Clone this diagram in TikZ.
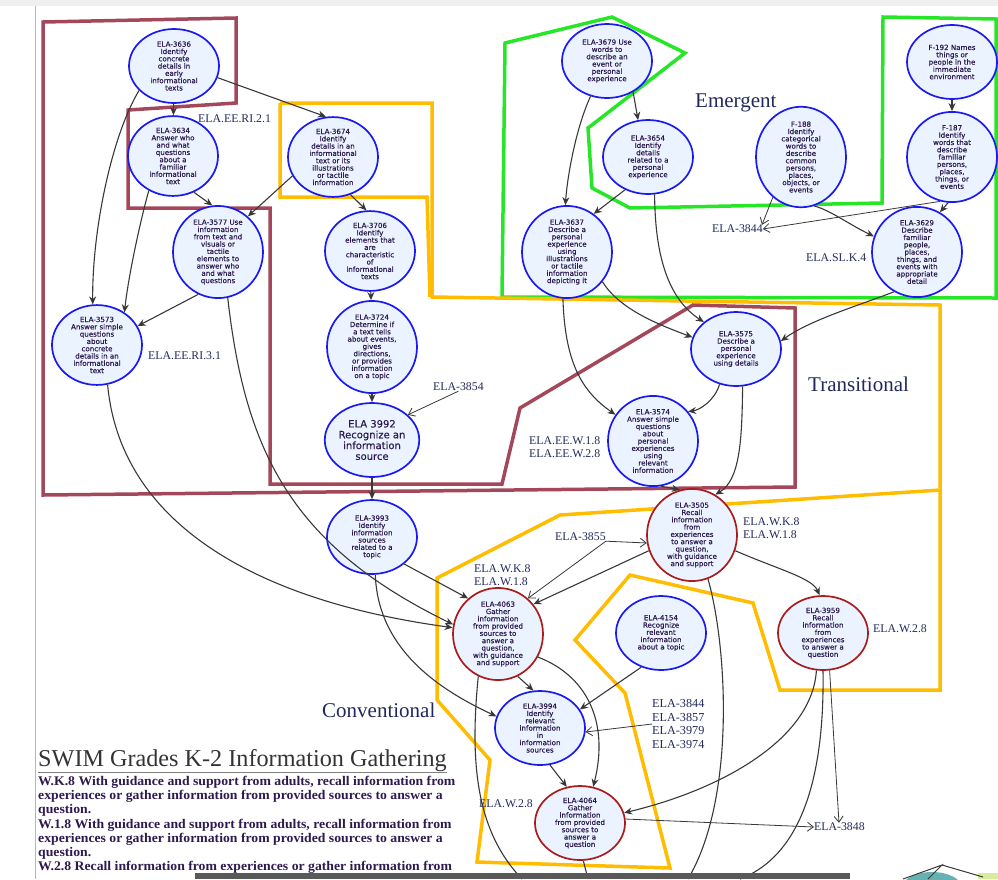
\documentclass[tikz,border=0pt]{standalone}
\usepackage{fontspec}
\setmainfont{Liberation Serif}
\newfontfamily\nodefont{DejaVu Sans}[FakeBold=0.4]
\newfontfamily\bodyfont{Liberation Serif}[FakeStretch=1.04]
\usetikzlibrary{shapes.geometric,arrows.meta}
\definecolor{ringblue}{HTML}{1A1AF0}
\definecolor{ringred}{HTML}{A81C1C}
\definecolor{nodefill}{HTML}{EAF3FF}
\definecolor{nodetext}{HTML}{2E1A4E}
\definecolor{eebox}{HTML}{A3485A}
\definecolor{levelbox}{HTML}{FFBC00}
\definecolor{emergbox}{HTML}{27E627}
\definecolor{labtext}{HTML}{22295A}
\definecolor{edgegray}{HTML}{383838}
\definecolor{pageline}{HTML}{A8B8D0}
\begin{document}
\begin{tikzpicture}[x=1pt,y=-1pt,
  ela/.style={ellipse,draw=ringblue,line width=1.7pt,fill=nodefill,inner sep=0pt,
    minimum width=90pt,minimum height=74pt,align=center,text=nodetext,
    font=\nodefont\fontsize{7.1}{7.3}\selectfont},
  gather/.style={ela,draw=ringred},
  dep/.style={-{Stealth[length=8pt,width=7pt]},draw=edgegray,line width=1.1pt},
  offpage/.style={draw=edgegray,line width=1.1pt},
  ref/.style={-{Straight Barb[length=6pt,width=9pt]},draw=edgegray,line width=0.8pt},
  std/.style={anchor=west,text=labtext,font=\fontsize{11.8}{12.6}\selectfont,inner sep=0pt,align=left},
  level/.style={anchor=west,text=labtext,font=\fontsize{21}{22}\selectfont,inner sep=0pt},
  region/.style={line width=3.5pt,line join=miter}]
\useasboundingbox (0,0) rectangle (998,879);
\fill[gray!12] (0,0) rectangle (998,6);
\draw[pageline,line width=1pt] (35,6) -- (35,879);

% regions
\draw[region,emergbox] (502,297) -- (505,43) -- (612,17) -- (685,53) -- (588,128) -- (592,188)
  -- (630,208) -- (882,203) -- (883,17) -- (996,19) -- (996,298) -- cycle;
\draw[region,eebox] (43,495) -- (43,22) -- (236,18) -- (236,103) -- (128,110) -- (128,208)
  -- (270,208) -- (270,484) -- (502,484) -- (520,408) -- (693,305) -- (795,308) -- (795,487) -- cycle;
\draw[region,levelbox] (280,103) -- (432,103) -- (432,297) -- (940,305) -- (940,488);
\draw[region,levelbox] (280,103) -- (280,197) -- (427,197) -- (430,297);
\draw[region,levelbox] (437,578) -- (560,515) -- (940,490) -- (940,690) -- (780,690) -- (753,603)
  -- (630,575) -- (575,640) -- (625,693) -- (670,868) -- (477,862) -- (490,760) -- (437,700) -- cycle;

% standards
\node[ela] (e3636) at (174,66) {ELA-3636\\Identify\\concrete\\details in\\early\\informational\\texts};
\node[ela] (e3634) at (173,156) {ELA-3634\\Answer who\\and what\\questions\\about a\\familiar\\informational\\text};
\node[ela] (e3577) at (218,252) {ELA-3577 Use\\information\\from text and\\visuals or\\tactile\\elements to\\answer who\\and what\\questions};
\node[ela] (e3573) at (97,345) {ELA-3573\\Answer simple\\questions\\about\\concrete\\details in an\\informational\\text};
\node[ela] (e3674) at (333,157) {ELA-3674\\Identify\\details in an\\informational\\text or its\\illustrations\\or tactile\\information};
\node[ela] (e3706) at (370,251) {ELA-3706\\Identify\\elements that\\are\\characteristic\\of\\informational\\texts};
\node[ela] (e3724) at (372,347) {ELA-3724\\Determine if\\a text tells\\about events,\\gives\\directions,\\or provides\\information\\on a topic};
\node[ela,font=\nodefont\fontsize{10}{10.8}\selectfont] (e3992) at (372,440) {ELA 3992\\Recognize an\\information\\source};
\node[ela] (e3679) at (607,61) {ELA-3679 Use\\words to\\describe an\\event or\\personal\\experience};
\node[ela] (e3654) at (648,157) {ELA-3654\\Identify\\details\\related to a\\personal\\experience};
\node[ela] (e3637) at (567,252) {ELA-3637\\Describe a\\personal\\experience\\using\\illustrations\\or tactile\\information\\depicting it};
\node[ela] (f192) at (952,62) {F-192 Names\\things or\\people in the\\immediate\\environment};
\node[ela] (f188) at (801,157) {F-188\\Identify\\categorical\\words to\\describe\\common\\persons,\\places,\\objects, or\\events};
\node[ela] (f187) at (952,157) {F-187\\Identify\\words that\\describe\\familiar\\persons,\\places,\\things, or\\events};
\node[ela] (e3629) at (917,252) {ELA-3629\\Describe\\familiar\\people,\\places,\\things, and\\events with\\appropriate\\detail};
\node[ela] (e3575) at (736,349) {ELA-3575\\Describe a\\personal\\experience\\using details};
\node[ela] (e3574) at (653,441) {ELA-3574\\Answer simple\\questions\\about\\personal\\experiences\\using\\relevant\\information};
\node[ela] (e3993) at (372,537) {ELA-3993\\Identify\\information\\sources\\related to a\\topic};
\node[gather] (e4063) at (498,634) {ELA-4063\\Gather\\information\\from provided\\sources to\\answer a\\question,\\with guidance\\and support};
\node[gather] (e3505) at (692,535) {ELA-3505\\Recall\\information\\from\\experiences\\to answer a\\question,\\with guidance\\and support};
\node[ela] (e4154) at (661,633) {ELA-4154\\Recognize\\relevant\\information\\about a topic};
\node[gather] (e3959) at (823,633) {ELA-3959\\Recall\\information\\from\\experiences\\to answer a\\question};
\node[ela] (e3994) at (540,728) {ELA-3994\\Identify\\relevant\\information\\in\\information\\sources};
\node[gather] (e4064) at (580,823) {ELA-4064\\Gather\\information\\from provided\\sources to\\answer a\\question};

% labels
\node[std] (ri21) at (198,119) {ELA.EE.RI.2.1};
\node[std] (ri31) at (148,356) {ELA.EE.RI.3.1};
\node[level] (emergent) at (695,103) {Emergent};
\node[std] (r3844a) at (712,229) {ELA-3844};
\node[std] (slk4) at (806,258) {ELA.SL.K.4};
\node[level] (transitional) at (808,384) {Transitional};
\node[std] (r3854) at (433,387) {ELA-3854};
\node[std] (eew) at (529,447) {ELA.EE.W.1.8\\ELA.EE.W.2.8};
\node[std] (r3855) at (555,537) {ELA-3855};
\node[std] (wk8a) at (474,575) {ELA.W.K.8\\ELA.W.1.8};
\node[std] (wk8b) at (743,528) {ELA.W.K.8\\ELA.W.1.8};
\node[std] (w28a) at (873,629) {ELA.W.2.8};
\node[level] (conventional) at (322,710) {Conventional};
\node[std,font=\fontsize{12.2}{13.8}\selectfont] (rlist) at (652,724) {ELA-3844\\ELA-3857\\ELA-3979\\ELA-3974};
\node[std] (w28b) at (479,804) {ELA.W.2.8};
\node[std] (r3848) at (814,827) {ELA-3848};

% off-page ends
\coordinate (d4063) at (522,879);
\coordinate (d4064) at (588,879);
\coordinate (d3505) at (688,879);
\coordinate (d3959) at (740,879);

% connections
\draw[dep] (e3636) -- (e3634);
\draw[dep] (e3636.-15) -- (e3674.100);
\draw[dep] (e3636.215) .. controls (112,135) and (92,230) .. (e3573.96);
\draw[dep] (e3634.235) .. controls (138,230) and (128,280) .. (e3573.50);
\draw[dep] (e3634.-60) -- (e3577.97);
\draw[dep] (e3674.205) -- (e3577.50);
\draw[dep] (e3674.-65) -- (e3706.95);
\draw[dep] (e3706) -- (e3724);
\draw[dep] (e3724) -- (e3992);
\draw[dep] (e3577.245) -- (e3573.25);
\draw[dep] (e3577.-78) .. controls (245,450) and (290,545) .. (e4063.168);
\draw[dep] (e3573.-75) .. controls (120,520) and (250,600) .. (e4063.172);
\draw[dep] (e3992) -- (e3993);
\draw[dep] (e3993.-40) -- (e4063.130);
\draw[dep] (e3993.-85) .. controls (378,650) and (440,690) .. (e3994.165);
\draw[dep] (e4063.-65) -- (e3994.100);
\draw[dep] (e4063.-30) .. controls (585,675) and (610,720) .. (e4064.70);
\draw[offpage] (e4063.-115) .. controls (470,760) and (475,830) .. (d4063);
\draw[offpage] (e4064.-85) -- (d4064);
\draw[dep] (e3994.-75) -- (e4064.110);
\draw[dep] (e4154.-120) -- (e3994.25);
\draw[dep] (e3959.-100) .. controls (812,740) and (720,790) .. (e4064.13);
\draw[ref] (e3959.-80) -- (r3848.north -| 839,0);
\draw[offpage] (e3959.-90) .. controls (825,800) and (790,860) .. (d3959);
\draw[dep] (e3505.200) -- (e4063.40);
\draw[dep] (e3505.-20) .. controls (780,570) and (812,578) .. (e3959.95);
\draw[offpage] (e3505.-70) .. controls (728,650) and (735,800) .. (d3505);
\draw[dep] (e3574.-80) -- (e3505.105);
\draw[dep] (e3575.-80) .. controls (742,440) and (740,480) .. (e3505.60);
\draw[dep] (e3575.-115) .. controls (715,400) and (700,410) .. (e3574.40);
\draw[dep] (e3637.-95) .. controls (565,360) and (580,390) .. (e3574.145);
\draw[dep] (e3637.-40) .. controls (620,310) and (660,325) .. (e3575.165);
\draw[dep] (e3654.235) -- (e3637.55);
\draw[dep] (e3654.-80) .. controls (655,260) and (670,300) .. (e3575.140);
\draw[dep] (e3679.-50) -- (e3654.105);
\draw[dep] (e3679.-115) .. controls (575,130) and (567,180) .. (e3637.92);
\draw[dep] (f192) -- (f187);
\draw[dep] (f187.-95) -- (e3629.60);
\draw[ref] (f187.-105) -- (r3844a.east);
\draw[ref] (f188.-125) -- (r3844a.north -| 762,0);
\draw[dep] (f188.-75) .. controls (830,210) and (850,225) .. (e3629.160);
\draw[dep] (e3629.-120) .. controls (860,305) and (810,320) .. (e3575.10);
\draw[ref] (r3854.south) -- (e3992.35);
\draw[ref] (r3855.south east) -- (e3505.190);
\draw[ref] (r3855.south east) -- (e4063.50);
\draw[ref] (rlist.west) -- (e3994.-5);
\draw[ref] (e4064.5) -- (r3848.west);

% title and standards text
\node[anchor=west,inner sep=0pt,text=black!80,font=\fontsize{24.2}{26}\selectfont] (title) at (38,761) {SWIM Grades K-2 Information Gathering};
\draw[gray,line width=0.6pt] (title.south west) -- (title.south east);
\node[anchor=north west,inner sep=0pt,align=left,text=nodetext,font=\bodyfont\bfseries\fontsize{13.2}{14.2}\selectfont] (wtext) at (38,776)
  {W.K.8 With guidance and support from adults, recall information from\\
   experiences or gather information from provided sources to answer a\\
   question.\\
   W.1.8 With guidance and support from adults, recall information from\\
   experiences or gather information from provided sources to answer a\\
   question.\\
   W.2.8 Recall information from experiences or gather information from};
\fill[gray!70!black] (195,873) rectangle (850,879);

% corner of the next picture
\fill[teal!60] (932,888) ellipse [x radius=30pt,y radius=16pt];
\fill[yellow!60!green!40] (978,873) rectangle (998,879);
\draw[edgegray,line width=1pt] (903,879) -- (942,865) -- (928,879);
\draw[edgegray,line width=1pt] (942,865) -- (983,877);
\end{tikzpicture}
\end{document}
